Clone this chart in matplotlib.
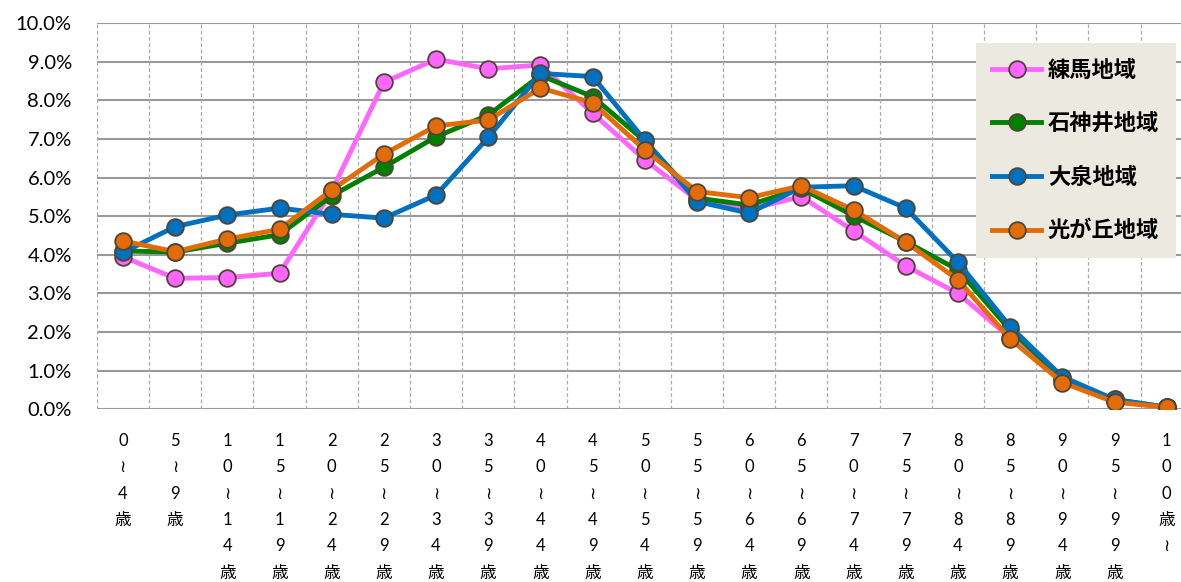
import matplotlib
matplotlib.use('Agg')
import matplotlib.pyplot as plt
from matplotlib.ticker import FuncFormatter

plt.rcParams['font.family'] = ['Lato', 'Noto Sans CJK JP', 'DejaVu Sans']

# 年齢階級
age_labels = ['0≀4歳', '5≀9歳', '10≀14歳', '15≀19歳', '20≀24歳', '25≀29歳',
              '30≀34歳', '35≀39歳', '40≀44歳', '45≀49歳', '50≀54歳', '55≀59歳',
              '60≀64歳', '65≀69歳', '70≀74歳', '75≀79歳', '80≀84歳', '85≀89歳',
              '90≀94歳', '95≀99歳', '100歳≀']

# 各地域の構成比(%)
nerima = [3.95, 3.39, 3.41, 3.52, 5.65, 8.47, 9.07, 8.82, 8.92, 7.67, 6.46,
          5.42, 5.18, 5.51, 4.62, 3.71, 3.00, 1.85, 0.75, 0.20, 0.05]
shakujii = [4.10, 4.07, 4.30, 4.52, 5.53, 6.27, 7.06, 7.62, 8.65, 8.10, 6.95,
            5.47, 5.29, 5.72, 5.01, 4.34, 3.61, 2.05, 0.80, 0.25, 0.05]
oizumi = [4.06, 4.73, 5.03, 5.21, 5.05, 4.95, 5.55, 7.04, 8.70, 8.62, 6.97,
          5.38, 5.08, 5.75, 5.79, 5.21, 3.81, 2.14, 0.84, 0.25, 0.05]
hikarigaoka = [4.36, 4.08, 4.41, 4.66, 5.68, 6.61, 7.34, 7.49, 8.32, 7.94, 6.72,
               5.64, 5.48, 5.79, 5.16, 4.33, 3.35, 1.82, 0.69, 0.18, 0.05]

series = [('練馬地域', nerima, '#FF66FF'),
          ('石神井地域', shakujii, '#008000'),
          ('大泉地域', oizumi, '#0070C0'),
          ('光が丘地域', hikarigaoka, '#E36C09')]

fig = plt.figure(figsize=(11.81, 5.82), dpi=100)
ax = fig.add_axes([0.082, 0.297, 0.928, 0.663])

x = list(range(len(age_labels)))
for name, vals, col in series:
    ax.plot(x, vals, color=col, lw=3.5, marker='o', markersize=12,
            markerfacecolor=col, markeredgecolor='#4F4535', markeredgewidth=1.3,
            label=name, zorder=3)

ax.set_xlim(-0.5, len(age_labels) - 0.5)
ax.set_ylim(0, 10)
ax.set_yticks([i for i in range(11)])
ax.yaxis.set_major_formatter(FuncFormatter(lambda v, p: '%.1f%%' % v))

# 横の目盛線は実線、縦は点線
for v in range(11):
    ax.axhline(v, color='#999999', lw=1.5, zorder=1)
for b in range(len(age_labels)):
    ax.axvline(b - 0.5, color='#AAAAAA', lw=0.9, ls=(0, (3, 2)), zorder=1)

for s in ax.spines.values():
    s.set_visible(False)

ax.set_xticks(x)
ax.set_xticklabels(['\n'.join(lab) for lab in age_labels], fontsize=12,
                   linespacing=1.8, va='top',
                   family=['Lato', 'DejaVu Sans', 'Noto Sans CJK JP'])
ax.tick_params(axis='x', length=0, pad=17)
ax.tick_params(axis='y', length=0, labelsize=14.5, pad=18)

leg = ax.legend(loc='upper left', bbox_to_anchor=(0.826, 0.926),
                bbox_transform=fig.transFigure, borderaxespad=0,
                fancybox=False, framealpha=1, facecolor='#ECEAE0',
                edgecolor='none', handlelength=2.2, labelspacing=1.45,
                borderpad=0.75, handletextpad=0.3,
                prop={'size': 16, 'weight': 'bold'})

fig.savefig('out.png', dpi=100)
